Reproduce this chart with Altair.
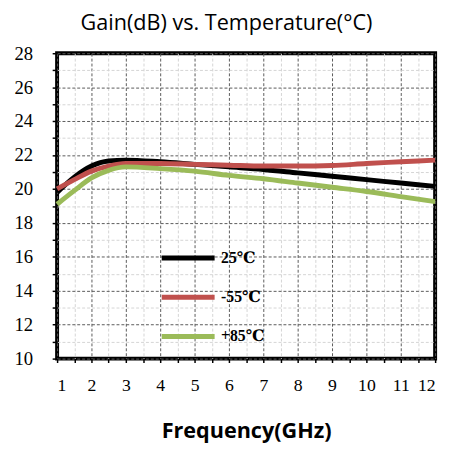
import altair as alt
import pandas as pd

freq = [1, 1.5, 2, 2.5, 3, 4, 5, 6, 7, 8, 9, 10, 11, 12]
gain_25 = [19.8, 20.7, 21.35, 21.65, 21.7, 21.6, 21.45, 21.3, 21.15, 20.95, 20.75, 20.55, 20.35, 20.15]
gain_m55 = [20.0, 20.55, 21.05, 21.35, 21.5, 21.5, 21.45, 21.4, 21.35, 21.35, 21.38, 21.5, 21.6, 21.7]
gain_p85 = [19.1, 19.9, 20.65, 21.1, 21.3, 21.2, 21.05, 20.8, 20.6, 20.35, 20.1, 19.85, 19.55, 19.25]
series = ["25℃", "-55℃", "+85℃"]
colors = ["#000000", "#C0504D", "#9BBB59"]

x_ticks = [1 + 0.5 * i for i in range(23)]
y_ticks = list(range(10, 29))

rows = []
for name, vals in zip(series, [gain_25, gain_m55, gain_p85]):
    for f, g in zip(freq, vals):
        rows.append({"Frequency": f, "Gain": g, "Series": name, "order": series.index(name)})
df = pd.DataFrame(rows)

grid_color = {"condition": {"test": "datum.value % 1 !== 0", "value": "#d4d4d4"}, "value": "#5a5a5a"}
grid_color_y = {"condition": {"test": "datum.value % 2 !== 0", "value": "#d4d4d4"}, "value": "#5a5a5a"}
serif = "Liberation Serif, DejaVu Serif, serif"

chart = alt.Chart(df).mark_line(strokeWidth=5, interpolate="monotone").encode(
    x=alt.X("Frequency:Q",
            scale=alt.Scale(domain=[1, 12], nice=False),
            axis=alt.Axis(values=x_ticks, title="Frequency(GHz)",
                          labelExpr="datum.value % 1 === 0 ? '' + datum.value + '\\u00a0\\u00a0' : ''",
                          labelOverlap=False,
                          labelFont=serif, labelFontSize=18, labelColor="#000",
                          labelPadding=14, tickSize=4, tickColor="#000", tickWidth=1.5,
                          domain=False, gridColor=grid_color, gridDash=[3, 2], gridWidth=1,
                          titleFont="Open Sans", titleFontSize=22, titleFontWeight="bold",
                          titleColor="#000", titlePadding=27)),
    y=alt.Y("Gain:Q",
            scale=alt.Scale(domain=[10, 28], nice=False, zero=False),
            axis=alt.Axis(values=y_ticks, title=None,
                          labelExpr="datum.value % 2 === 0 ? '' + datum.value : ''",
                          labelOverlap=False,
                          labelFont=serif, labelFontSize=19, labelColor="#000",
                          labelPadding=20, tickSize=5, tickColor="#000", tickWidth=1.5,
                          domain=False, gridColor=grid_color_y, gridDash=[3, 2], gridWidth=1)),
    color=alt.Color("Series:N", scale=alt.Scale(domain=series, range=colors),
                    legend=alt.Legend(title=None, orient="none", legendX=104, legendY=179,
                                      symbolType="stroke", symbolSize=2900, symbolStrokeWidth=5,
                                      labelFont=serif, labelFontSize=16,
                                      labelFontWeight="bold", labelColor="#000",
                                      rowPadding=-22.5, labelOffset=4)),
    order="order:Q",
).properties(
    width=385, height=311,
    title=alt.TitleParams("Gain(dB) vs. Temperature(°C)", font="Open Sans", fontSize=22,
                          fontWeight="normal", color="#000", dx=-20, offset=10),
    padding={"left": 50, "top": 42, "right": 7, "bottom": 89},
    autosize=alt.AutoSizeParams(type="none"),
).configure_view(stroke="#000", strokeWidth=4)

chart.save("out.html", embed_options={"renderer": "svg", "actions": False})
